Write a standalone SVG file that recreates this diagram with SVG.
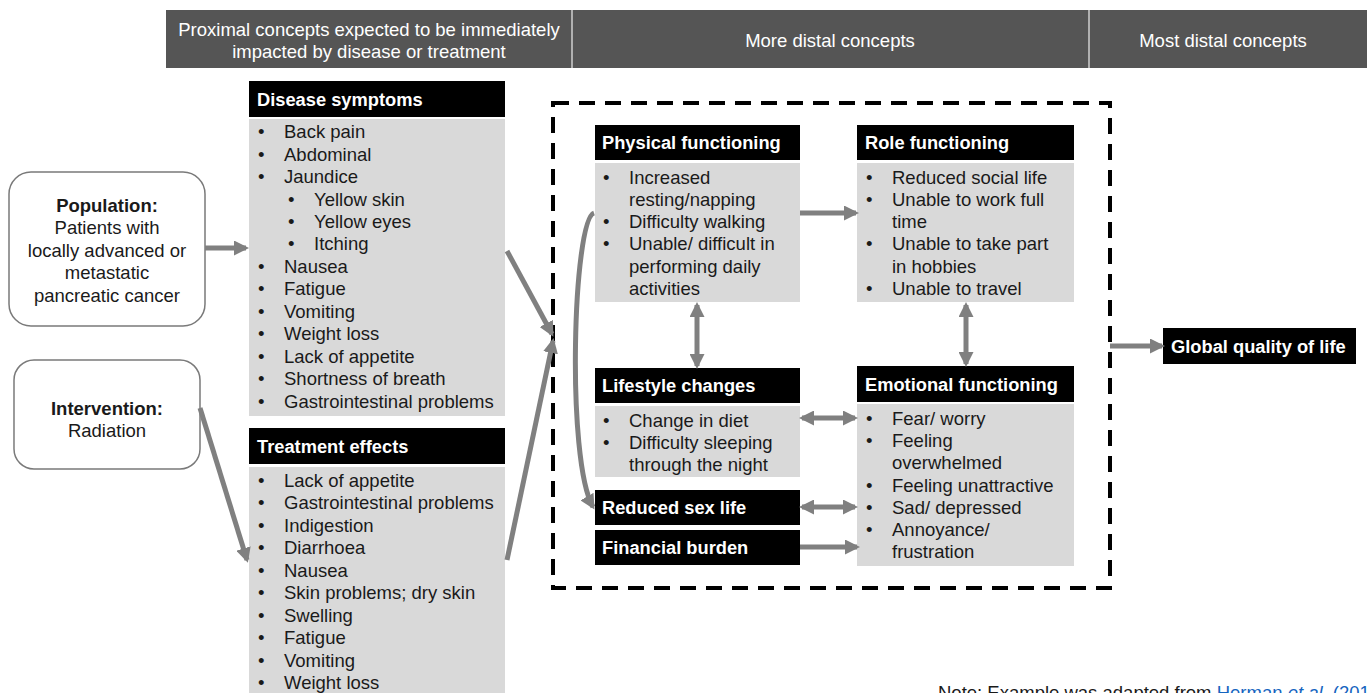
<svg xmlns="http://www.w3.org/2000/svg" width="1367" height="693" viewBox="0 0 1367 693">
<defs>
<style>
text{font-family:"Liberation Sans",Arial,sans-serif;font-size:18.5px;fill:#1a1a1a}
.hd{fill:#fff;font-size:18.5px}
.tb{font-weight:bold;fill:#fff;font-size:18.3px}
.blk{fill:#000}
.body{fill:#d9d9d9}
.rnd{fill:#fff;stroke:#7a7a7a;stroke-width:1.5}
.ar{stroke:#808080;stroke-width:5;fill:none}
</style>
<marker id="ah" viewBox="0 0 10 10" refX="8" refY="5" markerWidth="3" markerHeight="3" orient="auto-start-reverse" markerUnits="strokeWidth">
<path d="M0,0 L10,5 L0,10 z" fill="#808080"/>
</marker>
</defs>
<rect width="1367" height="693" fill="#fff"/>

<g id="header">
<rect x="166" y="10" width="1201" height="58" fill="#555555"/>
<line x1="572" y1="10" x2="572" y2="68" stroke="#cfcfcf" stroke-width="1.5"/>
<line x1="1089" y1="10" x2="1089" y2="68" stroke="#cfcfcf" stroke-width="1.5"/>
<text class="hd" x="369" y="36" text-anchor="middle">Proximal concepts expected to be immediately</text>
<text class="hd" x="369" y="58" text-anchor="middle">impacted by disease or treatment</text>
<text class="hd" x="830" y="47" text-anchor="middle">More distal concepts</text>
<text class="hd" x="1223" y="47" text-anchor="middle">Most distal concepts</text>
</g>

<g id="population">
<rect class="rnd" x="9" y="172" width="196" height="154" rx="22"/>
<text x="107" y="212" text-anchor="middle" font-weight="bold">Population:</text>
<text x="107" y="234" text-anchor="middle">Patients with</text>
<text x="107" y="257" text-anchor="middle">locally advanced or</text>
<text x="107" y="279" text-anchor="middle">metastatic</text>
<text x="107" y="302" text-anchor="middle">pancreatic cancer</text>
</g>

<g id="intervention">
<rect class="rnd" x="14" y="360" width="186" height="109" rx="20"/>
<text x="107" y="415" text-anchor="middle" font-weight="bold">Intervention:</text>
<text x="107" y="437" text-anchor="middle">Radiation</text>
</g>

<g id="disease-symptoms">
<rect class="blk" x="249" y="81" width="256" height="36"/>
<text class="tb" x="257" y="106">Disease symptoms</text>
<rect class="body" x="249" y="119" width="256" height="297"/>
<g>
<text x="258" y="138">•</text><text x="284" y="138">Back pain</text>
<text x="258" y="161">•</text><text x="284" y="161">Abdominal</text>
<text x="258" y="183">•</text><text x="284" y="183">Jaundice</text>
<text x="288" y="206">•</text><text x="314" y="206">Yellow skin</text>
<text x="288" y="228">•</text><text x="314" y="228">Yellow eyes</text>
<text x="288" y="250">•</text><text x="314" y="250">Itching</text>
<text x="258" y="273">•</text><text x="284" y="273">Nausea</text>
<text x="258" y="295">•</text><text x="284" y="295">Fatigue</text>
<text x="258" y="318">•</text><text x="284" y="318">Vomiting</text>
<text x="258" y="340">•</text><text x="284" y="340">Weight loss</text>
<text x="258" y="363">•</text><text x="284" y="363">Lack of appetite</text>
<text x="258" y="385">•</text><text x="284" y="385">Shortness of breath</text>
<text x="258" y="408">•</text><text x="284" y="408">Gastrointestinal problems</text>
</g>
</g>

<g id="treatment-effects">
<rect class="blk" x="249" y="428" width="256" height="36"/>
<text class="tb" x="257" y="453">Treatment effects</text>
<rect class="body" x="249" y="467" width="256" height="226"/>
<text x="258" y="487">•</text><text x="284" y="487">Lack of appetite</text>
<text x="258" y="509">•</text><text x="284" y="509">Gastrointestinal problems</text>
<text x="258" y="532">•</text><text x="284" y="532">Indigestion</text>
<text x="258" y="554">•</text><text x="284" y="554">Diarrhoea</text>
<text x="258" y="577">•</text><text x="284" y="577">Nausea</text>
<text x="258" y="599">•</text><text x="284" y="599">Skin problems; dry skin</text>
<text x="258" y="622">•</text><text x="284" y="622">Swelling</text>
<text x="258" y="644">•</text><text x="284" y="644">Fatigue</text>
<text x="258" y="667">•</text><text x="284" y="667">Vomiting</text>
<text x="258" y="689">•</text><text x="284" y="689">Weight loss</text>
</g>

<g id="distal-boundary">
<rect x="553" y="103" width="557" height="485" fill="none" stroke="#000" stroke-width="4" stroke-dasharray="16,10"/>
</g>

<g id="physical-functioning">
<rect class="blk" x="595" y="125" width="205" height="35"/>
<text class="tb" x="602" y="149">Physical functioning</text>
<rect class="body" x="595" y="163" width="205" height="139"/>
<text x="603" y="184">•</text><text x="629" y="184">Increased</text>
<text x="629" y="206">resting/napping</text>
<text x="603" y="228">•</text><text x="629" y="228">Difficulty walking</text>
<text x="603" y="250">•</text><text x="629" y="250">Unable/ difficult in</text>
<text x="629" y="273">performing daily</text>
<text x="629" y="295">activities</text>
</g>

<g id="role-functioning">
<rect class="blk" x="857" y="125" width="217" height="35"/>
<text class="tb" x="865" y="149">Role functioning</text>
<rect class="body" x="857" y="163" width="217" height="139"/>
<text x="866" y="184">•</text><text x="892" y="184">Reduced social life</text>
<text x="866" y="206">•</text><text x="892" y="206">Unable to work full</text>
<text x="892" y="228">time</text>
<text x="866" y="250">•</text><text x="892" y="250">Unable to take part</text>
<text x="892" y="273">in hobbies</text>
<text x="866" y="295">•</text><text x="892" y="295">Unable to travel</text>
</g>

<g id="lifestyle-changes">
<rect class="blk" x="595" y="368" width="205" height="35"/>
<text class="tb" x="602" y="392">Lifestyle changes</text>
<rect class="body" x="595" y="406" width="205" height="71"/>
<text x="603" y="427">•</text><text x="629" y="427">Change in diet</text>
<text x="603" y="449">•</text><text x="629" y="449">Difficulty sleeping</text>
<text x="629" y="471">through the night</text>
</g>

<g id="emotional-functioning">
<rect class="blk" x="857" y="366" width="217" height="36"/>
<text class="tb" x="865" y="391">Emotional functioning</text>
<rect class="body" x="857" y="404" width="217" height="162"/>
<text x="866" y="425">•</text><text x="892" y="425">Fear/ worry</text>
<text x="866" y="447">•</text><text x="892" y="447">Feeling</text>
<text x="892" y="469">overwhelmed</text>
<text x="866" y="492">•</text><text x="892" y="492">Feeling unattractive</text>
<text x="866" y="514">•</text><text x="892" y="514">Sad/ depressed</text>
<text x="866" y="536">•</text><text x="892" y="536">Annoyance/</text>
<text x="892" y="558">frustration</text>
</g>

<g id="reduced-sex-life">
<rect class="blk" x="595" y="490" width="205" height="35"/>
<text class="tb" x="602" y="514">Reduced sex life</text>
</g>

<g id="financial-burden">
<rect class="blk" x="595" y="530" width="205" height="35"/>
<text class="tb" x="602" y="554">Financial burden</text>
</g>

<g id="global-qol">
<rect class="blk" x="1163" y="328" width="193" height="36"/>
<text class="tb" x="1171" y="353">Global quality of life</text>
</g>

<g id="connectors">
<line class="ar" x1="205" y1="248" x2="246" y2="248" marker-end="url(#ah)"/>
<line class="ar" x1="200" y1="408" x2="247" y2="560" marker-end="url(#ah)"/>
<line class="ar" x1="507" y1="251" x2="552" y2="334" marker-end="url(#ah)"/>
<line class="ar" x1="507" y1="560" x2="553" y2="341" marker-end="url(#ah)"/>
<path class="ar" d="M594,213 C573,220 566,460 593,507" marker-end="url(#ah)"/>
<line class="ar" x1="800" y1="213" x2="856" y2="213" marker-end="url(#ah)"/>
<line class="ar" x1="697" y1="305" x2="697" y2="366" marker-start="url(#ah)" marker-end="url(#ah)"/>
<line class="ar" x1="966" y1="305" x2="966" y2="364" marker-start="url(#ah)" marker-end="url(#ah)"/>
<line class="ar" x1="802" y1="418" x2="855" y2="418" marker-start="url(#ah)" marker-end="url(#ah)"/>
<line class="ar" x1="802" y1="507" x2="855" y2="507" marker-start="url(#ah)" marker-end="url(#ah)"/>
<line class="ar" x1="800" y1="547" x2="857" y2="547" marker-end="url(#ah)"/>
<line class="ar" x1="1110" y1="346" x2="1162" y2="346" marker-end="url(#ah)"/>
</g>

<g id="note">
<text x="938" y="699" font-size="17.5">Note: Example was adapted from <tspan fill="#1565c0">Herman <tspan font-style="italic">et al.</tspan> (201</tspan></text>
</g>
</svg>
